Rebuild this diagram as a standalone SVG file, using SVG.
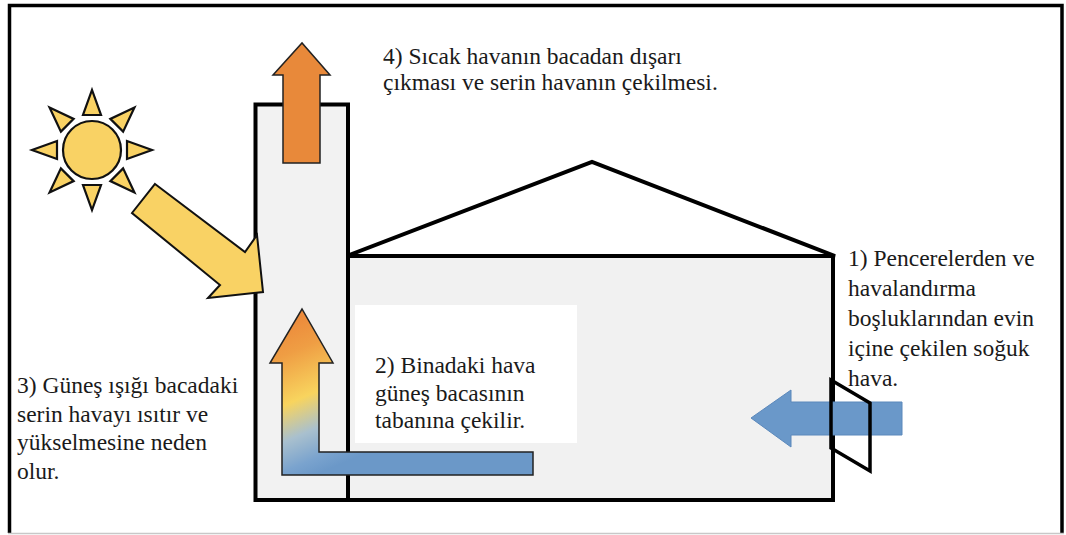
<svg xmlns="http://www.w3.org/2000/svg" width="1066" height="535" viewBox="0 0 1066 535">
  <defs>
    <style>
      .wall { stroke: #000; stroke-width: 4; }
      .label { font-family: 'Liberation Serif', 'DejaVu Serif', serif; font-size: 23.5px; fill: #1a1a1a; }
      .sunfill { fill: #F9D264; stroke: #111; stroke-width: 2.2; stroke-linejoin: miter; }
    </style>
    <linearGradient id="warmToCool" gradientUnits="userSpaceOnUse" x1="290" y1="320" x2="350" y2="460">
      <stop offset="0" stop-color="#EC8A3B"/>
      <stop offset="0.2" stop-color="#EF9E44"/>
      <stop offset="0.5" stop-color="#F8D45E"/>
      <stop offset="0.72" stop-color="#A9C0CE"/>
      <stop offset="0.9" stop-color="#7AA3CE"/>
      <stop offset="1" stop-color="#6B98C8"/>
    </linearGradient>
    <polygon id="ray" points="-9,-35 9,-35 0,-60"/>
  </defs>

  <rect width="1066" height="535" fill="#fff"/>

  <!-- outer frame -->
  <g id="frame" fill="none">
    <path d="M9.5,533 V5.5 H1062 V533" stroke="#000" stroke-width="3.5"/>
    <line x1="8" y1="533.5" x2="1064" y2="533.5" stroke="#c8c8c8" stroke-width="1.5"/>
  </g>

  <!-- house body and roof -->
  <g id="house">
    <polygon points="344,257 592,162 835,256" fill="#fff" stroke="#000" stroke-width="4" stroke-linejoin="miter"/>
    <rect x="348" y="256" width="485" height="244" fill="#f1f1f1" class="wall"/>
    <rect x="355" y="305" width="222" height="138" fill="#fff"/>
  </g>

  <!-- solar chimney -->
  <g id="chimney">
    <rect x="255.5" y="104.5" width="92.5" height="395.5" fill="#f2f2f2" class="wall"/>
  </g>

  <!-- sun -->
  <g id="sun" class="sunfill">
    <g transform="translate(92,150)">
      <use href="#ray"/>
      <use href="#ray" transform="rotate(45)"/>
      <use href="#ray" transform="rotate(90)"/>
      <use href="#ray" transform="rotate(135)"/>
      <use href="#ray" transform="rotate(180)"/>
      <use href="#ray" transform="rotate(225)"/>
      <use href="#ray" transform="rotate(270)"/>
      <use href="#ray" transform="rotate(315)"/>
      <circle r="29"/>
    </g>
  </g>

  <!-- airflow and sunlight arrows -->
  <g id="connectors" stroke-linejoin="miter">
    <polygon id="sunlight-arrow" points="155,184 245,252 257,235 263,292 208,298 220,285 132,213" fill="#F9D264" stroke="#111" stroke-width="2"/>
    <polygon id="exhaust-arrow" points="283,163 283,75 273,75 302,43 330,75 320,75 320,163" fill="#E8893A" stroke="#222" stroke-width="1.5"/>
    <polygon id="rising-air-arrow" points="282,475 282,363 270,363 302,309 333,363 319,363 319,452 533,452 533,475" fill="url(#warmToCool)" stroke="#222" stroke-width="1.5"/>
    <polygon id="intake-arrow" points="751,418 791,390 791,402 902,402 902,435 791,435 791,447" fill="#6A98C9" stroke="#5b88bb" stroke-width="1"/>
  </g>

  <!-- window opening on the right wall -->
  <g id="window">
    <polygon points="831,380 870,403 870,471 831,448" fill="none" stroke="#000" stroke-width="3.5"/>
  </g>

  <!-- captions -->
  <g id="caption-4" class="label" font-family="Liberation Serif, DejaVu Serif, serif">
    <text x="383" y="64">4) Sıcak havanın bacadan dışarı</text>
    <text x="383" y="90">çıkması ve serin havanın çekilmesi.</text>
  </g>
  <g id="caption-1" class="label" font-family="Liberation Serif, DejaVu Serif, serif">
    <text x="848" y="266">1) Pencerelerden ve</text>
    <text x="848" y="296">havalandırma</text>
    <text x="848" y="326">boşluklarından evin</text>
    <text x="848" y="356">içine çekilen soğuk</text>
    <text x="848" y="386">hava.</text>
  </g>
  <g id="caption-2" class="label" font-family="Liberation Serif, DejaVu Serif, serif">
    <text x="375" y="373">2) Binadaki hava</text>
    <text x="375" y="401">güneş bacasının</text>
    <text x="375" y="428">tabanına çekilir.</text>
  </g>
  <g id="caption-3" class="label" font-family="Liberation Serif, DejaVu Serif, serif">
    <text x="17" y="393">3) Güneş ışığı bacadaki</text>
    <text x="17" y="422">serin havayı ısıtır ve</text>
    <text x="17" y="450">yükselmesine neden</text>
    <text x="17" y="479">olur.</text>
  </g>
</svg>
